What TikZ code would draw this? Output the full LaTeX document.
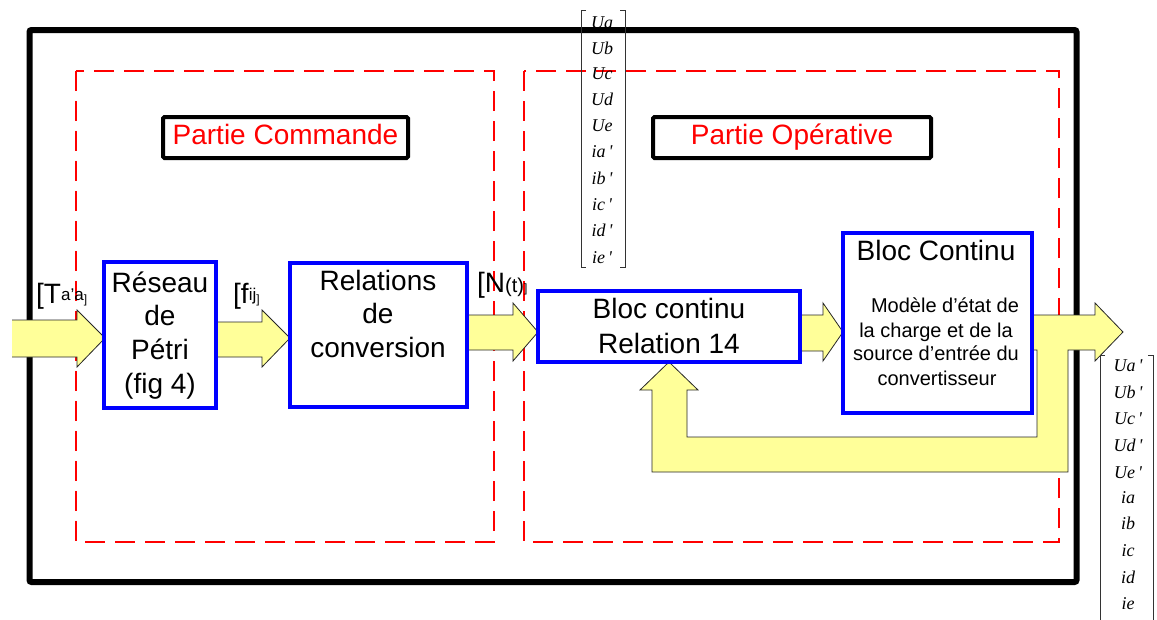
\documentclass[tikz,border=0pt]{standalone}
\usepackage{fontspec}
\setmainfont{Liberation Sans}
\newfontfamily\serfont{Liberation Serif}
\newcommand\fsz[1]{\fontsize{#1}{#1}\selectfont}
\definecolor{ay}{RGB}{255,255,153}
\definecolor{bblue}{RGB}{0,0,255}
\definecolor{rred}{RGB}{255,0,0}
\tikzset{
  frame/.style={draw=black, line width=6, rounded corners=2},
  zone/.style={draw=rred, line width=2.5, dash pattern=on 20pt off 10pt},
  titlebox/.style={draw=black, line width=4, rounded corners=1.5, fill=white, inner sep=0},
  bluebox/.style={draw=bblue, line width=3.5, fill=white, inner sep=0},
  blockarrow/.style={fill=ay, draw=black!85, line width=0.8, line join=miter},
  txt/.style={anchor=base, inner sep=0, font=\fsz{28}},
  smalltxt/.style={anchor=base, inner sep=0, font=\fsz{20}},
  mat/.style={anchor=base, inner sep=0, font=\serfont\itshape\fsz{18}},
  brk/.style={draw=black!80, line width=0.9},
}
\begin{document}
\begin{tikzpicture}[x=1pt,y=-1pt]
\useasboundingbox (0,0) rectangle (1157,619);

% outer frame and zones
\draw[frame] (29.5,30) rectangle (1076.5,582);
\draw[zone] (76,71) rectangle (494,542);
\draw[zone] (524,71) rectangle (1059,542);

% top matrix
\draw[brk] (586,10) -- (581,10) -- (581,267) -- (586,267);
\draw[brk] (620,10) -- (625,10) -- (625,267) -- (620,267);
\foreach \t/\y [count=\i] in {Ua/22,Ub/48,Uc/73,Ud/99,Ue/125,ia\,\textquotesingle/151,ib\,\textquotesingle/178,ic\,\textquotesingle/204,id\,\textquotesingle/230,ie\,\textquotesingle/257}
  \node[mat] (mt\i) at (602,\y+6) {\t};

% bottom matrix
\draw[brk] (1105,355) -- (1100,355) -- (1100,625);
\draw[brk] (1148,355) -- (1153,355) -- (1153,625);
\foreach \t/\y [count=\i] in {Ua\,\textquotesingle/365,Ub\,\textquotesingle/392,Uc\,\textquotesingle/418,Ud\,\textquotesingle/445,Ue\,\textquotesingle/472,ia/497,ib/523,ic/550,id/577,ie/603}
  \node[mat] (mb\i) at (1128,\y+6) {\t};

% block arrows
\draw[blockarrow] (12,320) -- (77,320) -- (77,310) -- (105,338) -- (77,367) -- (77,357) -- (12,357);
\draw[blockarrow] (216,322) -- (262,322) -- (262,310) -- (290,338) -- (262,367) -- (262,357) -- (216,357);
\draw[blockarrow] (467,315) -- (513,315) -- (513,303) -- (538,332) -- (513,361) -- (513,350) -- (467,350);
\draw[blockarrow] (800,315) -- (823,315) -- (823,303) -- (843,332) -- (823,361) -- (823,351) -- (800,351);
% output arrow with feedback loop
\draw[blockarrow] (1032,315) -- (1095,315) -- (1095,303) -- (1123,332) -- (1095,361) -- (1095,350)
  -- (1068,350) -- (1068,472) -- (652,472) -- (652,390) -- (640,390) -- (669,362) -- (698,390)
  -- (687,390) -- (687,437) -- (1037,437) -- (1037,350) -- (1032,350) -- cycle;

% title boxes
\node[titlebox, minimum width=245, minimum height=41] (pc) at (285.5,137.5) {};
\node[txt, text=rred] (pct) at (285.5,144) {Partie Commande};
\node[titlebox, minimum width=278, minimum height=41] (po) at (792,137.5) {};
\node[txt, text=rred] (pot) at (792,144) {Partie Opérative};

% blue blocks
\node[bluebox, minimum width=112, minimum height=146] (res) at (160,335) {};
\node[txt] (res1) at (160,292) {Réseau};
\node[txt] (res2) at (160,325) {de};
\node[txt] (res3) at (160,359) {Pétri};
\node[txt] (res4) at (160,393) {(fig 4)};

\node[bluebox, minimum width=177, minimum height=144] (rel) at (378.5,335) {};
\node[txt] (rel1) at (378,290) {Relations};
\node[txt] (rel2) at (378,323) {de};
\node[txt] (rel3) at (378,357) {conversion};

\node[bluebox, minimum width=262, minimum height=71] (bc) at (669,326.5) {};
\node[txt] (bc1) at (669,318) {Bloc continu};
\node[txt] (bc2) at (669,353) {Relation 14};

\node[bluebox, minimum width=189, minimum height=180] (bC) at (937.5,323) {};
\node[txt] (bC1) at (936,260) {Bloc Continu};
\node[smalltxt] (bC2) at (945,312) {Modèle d’état de};
\node[smalltxt] (bC3) at (936,337) {la charge et de la};
\node[smalltxt] (bC4) at (936,360) {source d’entrée du};
\node[smalltxt] (bC5) at (937,385) {convertisseur};

% signal labels
\node[anchor=base west, inner sep=0] (lT) at (36,303)
  {\fsz{28}[T\raisebox{3pt}{\fsz{17}a’a}{\fsz{12}]}};
\node[anchor=base west, inner sep=0] (lf) at (233,303)
  {\fsz{28}[f\raisebox{3pt}{\fsz{17}ij}{\fsz{12}]}};
\node[anchor=base west, inner sep=0] (lN) at (477,292)
  {\fsz{28}[N{\fsz{20}(t)}{\fsz{12}]}};
\end{tikzpicture}
\end{document}
